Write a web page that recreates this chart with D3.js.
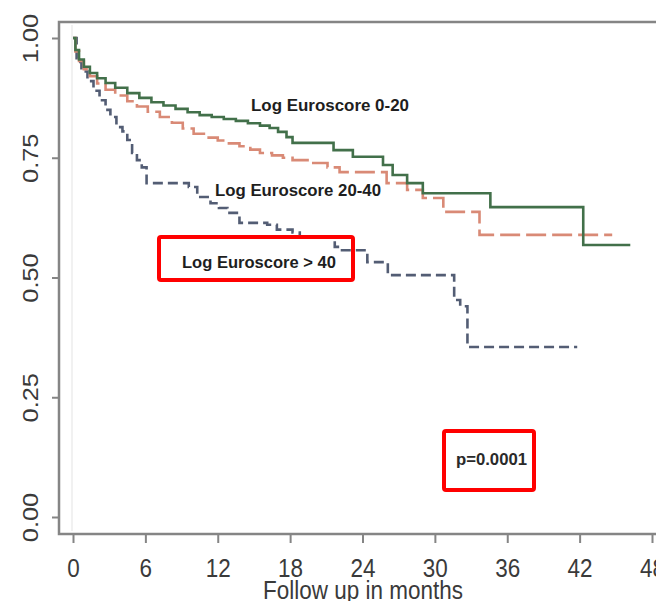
<!DOCTYPE html>
<html>
<head>
<meta charset="utf-8">
<script src="https://cdn.jsdelivr.net/npm/d3@7"></script>
<style>
  html, body { margin: 0; padding: 0; background: #fff; }
  svg { display: block; font-family: "Liberation Sans", Arial, Helvetica, sans-serif; }
</style>
</head>
<body>
<svg id="chart" width="656" height="601"></svg>
<script>
// Kaplan-Meier survival by Log Euroscore group (months of follow-up vs survival)
const lowMonths  = [0, 0.2, 0.5, 0.9, 1.4, 2.0, 2.7, 3.5, 4.5, 5.5, 6.5, 7.5, 8.5, 9.5, 10.5, 11.5, 12.5, 13.5, 14.5, 15.5, 16.3, 17.0, 17.7, 18.2, 21.6, 23.2, 25.7, 26.5, 27.7, 29.0, 34.6, 42.3, 46.2];
const lowSurv    = [1.0, 0.975, 0.955, 0.94, 0.927, 0.916, 0.906, 0.896, 0.885, 0.875, 0.866, 0.859, 0.852, 0.845, 0.839, 0.835, 0.831, 0.827, 0.822, 0.817, 0.812, 0.804, 0.793, 0.781, 0.766, 0.752, 0.735, 0.714, 0.697, 0.676, 0.647, 0.568, 0.568];

const midMonths  = [0, 0.2, 0.5, 0.9, 1.4, 2.0, 2.7, 3.5, 4.5, 5.3, 6.2, 7.2, 8.2, 9.1, 10.0, 11.0, 12.0, 12.8, 13.8, 14.7, 15.5, 16.5, 17.4, 18.2, 19.7, 21.1, 22.1, 26.0, 27.7, 29.0, 30.7, 33.7, 44.7];
const midSurv    = [1.0, 0.972, 0.952, 0.935, 0.92, 0.905, 0.892, 0.88, 0.868, 0.857, 0.846, 0.835, 0.823, 0.811, 0.80, 0.792, 0.786, 0.78, 0.774, 0.767, 0.76, 0.755, 0.75, 0.745, 0.739, 0.73, 0.72, 0.697, 0.683, 0.666, 0.637, 0.589, 0.589];

const highMonths = [0, 0.3, 0.7, 1.2, 1.7, 2.2, 2.7, 3.1, 3.6, 4.1, 4.5, 4.9, 5.3, 5.7, 6.1, 9.6, 10.3, 11.4, 12.1, 12.8, 13.8, 16.1, 16.9, 18.2, 18.8, 21.7, 22.3, 24.4, 26.1, 31.6, 32.1, 32.7, 41.8];
const highSurv   = [1.0, 0.95, 0.93, 0.91, 0.89, 0.87, 0.85, 0.835, 0.814, 0.805, 0.787, 0.76, 0.745, 0.73, 0.697, 0.689, 0.668, 0.655, 0.645, 0.635, 0.614, 0.61, 0.60, 0.594, 0.585, 0.564, 0.557, 0.532, 0.505, 0.453, 0.44, 0.355, 0.355];

const groupLabels = ["Log Euroscore 0-20", "Log Euroscore 20-40", "Log Euroscore > 40"];
const xTicks = [0, 6, 12, 18, 24, 30, 36, 42, 48];
const yTicks = [0, 0.25, 0.5, 0.75, 1];
const pValueLabel = "p=0.0001";
const xTitle = "Follow up in months";

const svg = d3.select("#chart");

const x = d3.scaleLinear().domain([0, 48]).range([73, 652]);
const y = d3.scaleLinear().domain([0, 1]).range([517, 38]);

const frame = { left: 59, top: 22, right: 668, bottom: 534 };
const axisColor = "#858585";
const textColor = "#3a3a3a";
const stretch = 1.12;

// faint baseline guide at time zero
svg.append("line")
  .attr("x1", x(0) - 1).attr("x2", x(0) - 1)
  .attr("y1", frame.top + 3).attr("y2", frame.bottom - 3)
  .attr("stroke", "#ececec").attr("stroke-width", 1.5);

// plot box
svg.append("rect")
  .attr("x", frame.left).attr("y", frame.top)
  .attr("width", frame.right - frame.left).attr("height", frame.bottom - frame.top)
  .attr("fill", "none").attr("stroke", axisColor).attr("stroke-width", 2.5);

// y axis
const yAxis = svg.append("g")
  .attr("transform", `translate(${frame.left},0)`)
  .call(d3.axisLeft(y).tickValues(yTicks).tickFormat(d3.format(".2f")).tickSize(7).tickSizeOuter(0));
yAxis.select(".domain").remove();
yAxis.selectAll(".tick line").attr("stroke", axisColor).attr("stroke-width", 2);
yAxis.selectAll(".tick text")
  .attr("x", null).attr("dy", null)
  .attr("text-anchor", "middle")
  .attr("transform", `translate(-21,0) scale(1,${stretch + 0.01}) rotate(-90)`)
  .attr("fill", textColor)
  .style("font-size", "22.5px");

// x axis
const xAxis = svg.append("g")
  .attr("transform", `translate(0,${frame.bottom})`)
  .call(d3.axisBottom(x).tickValues(xTicks).tickFormat(d3.format("d")).tickSize(9).tickSizeOuter(0));
xAxis.select(".domain").remove();
xAxis.selectAll(".tick line").attr("stroke", axisColor).attr("stroke-width", 2);
xAxis.selectAll(".tick text")
  .attr("y", null).attr("dy", null)
  .attr("transform", `translate(0,43) scale(1,${stretch})`)
  .attr("fill", textColor)
  .style("font-size", "22.5px");

svg.append("text")
  .attr("text-anchor", "middle")
  .attr("transform", `translate(363,599) scale(1,${stretch})`)
  .attr("fill", textColor)
  .style("font-size", "22.5px")
  .text(xTitle);

// survival curves
const step = d3.line()
  .x(d => x(d[0]))
  .y(d => y(d[1]))
  .curve(d3.curveStepAfter);

const series = [
  { months: highMonths, surv: highSurv, color: "#535d74", dash: "10,5" },
  { months: midMonths,  surv: midSurv,  color: "#d98a76", dash: "20,6" },
  { months: lowMonths,  surv: lowSurv,  color: "#42704a", dash: null }
];

series.forEach(s => {
  const pts = s.months.map((m, i) => [m, s.surv[i]]);
  svg.append("path")
    .attr("d", step(pts))
    .attr("fill", "none")
    .attr("stroke", s.color)
    .attr("stroke-width", 2.6)
    .attr("stroke-dasharray", s.dash);
});

// group labels
const labelSpecs = [
  { text: groupLabels[0], x: 251, y: 111, w: 158 },
  { text: groupLabels[1], x: 215, y: 196, w: 166 },
  { text: groupLabels[2], x: 182, y: 268, w: 154 }
];
labelSpecs.forEach(l => {
  svg.append("text")
    .attr("transform", `translate(${l.x},${l.y}) scale(1,${stretch})`)
    .attr("textLength", l.w)
    .attr("lengthAdjust", "spacingAndGlyphs")
    .attr("fill", "#1e1e1e")
    .style("font-size", "15.5px")
    .style("font-weight", "bold")
    .text(l.text);
});

// highlight boxes
svg.append("rect")
  .attr("x", 159).attr("y", 237).attr("width", 194).attr("height", 43)
  .attr("rx", 2).attr("fill", "none").attr("stroke", "#ff0000").attr("stroke-width", 4);

svg.append("rect")
  .attr("x", 444).attr("y", 431).attr("width", 90).attr("height", 59)
  .attr("rx", 2).attr("fill", "none").attr("stroke", "#ff0000").attr("stroke-width", 4);

svg.append("text")
  .attr("transform", `translate(456,465) scale(1,${stretch})`)
  .attr("textLength", 71)
  .attr("lengthAdjust", "spacingAndGlyphs")
  .attr("fill", "#2a2a2a")
  .style("font-size", "14px")
  .style("font-weight", "bold")
  .text(pValueLabel);
</script>
</body>
</html>
